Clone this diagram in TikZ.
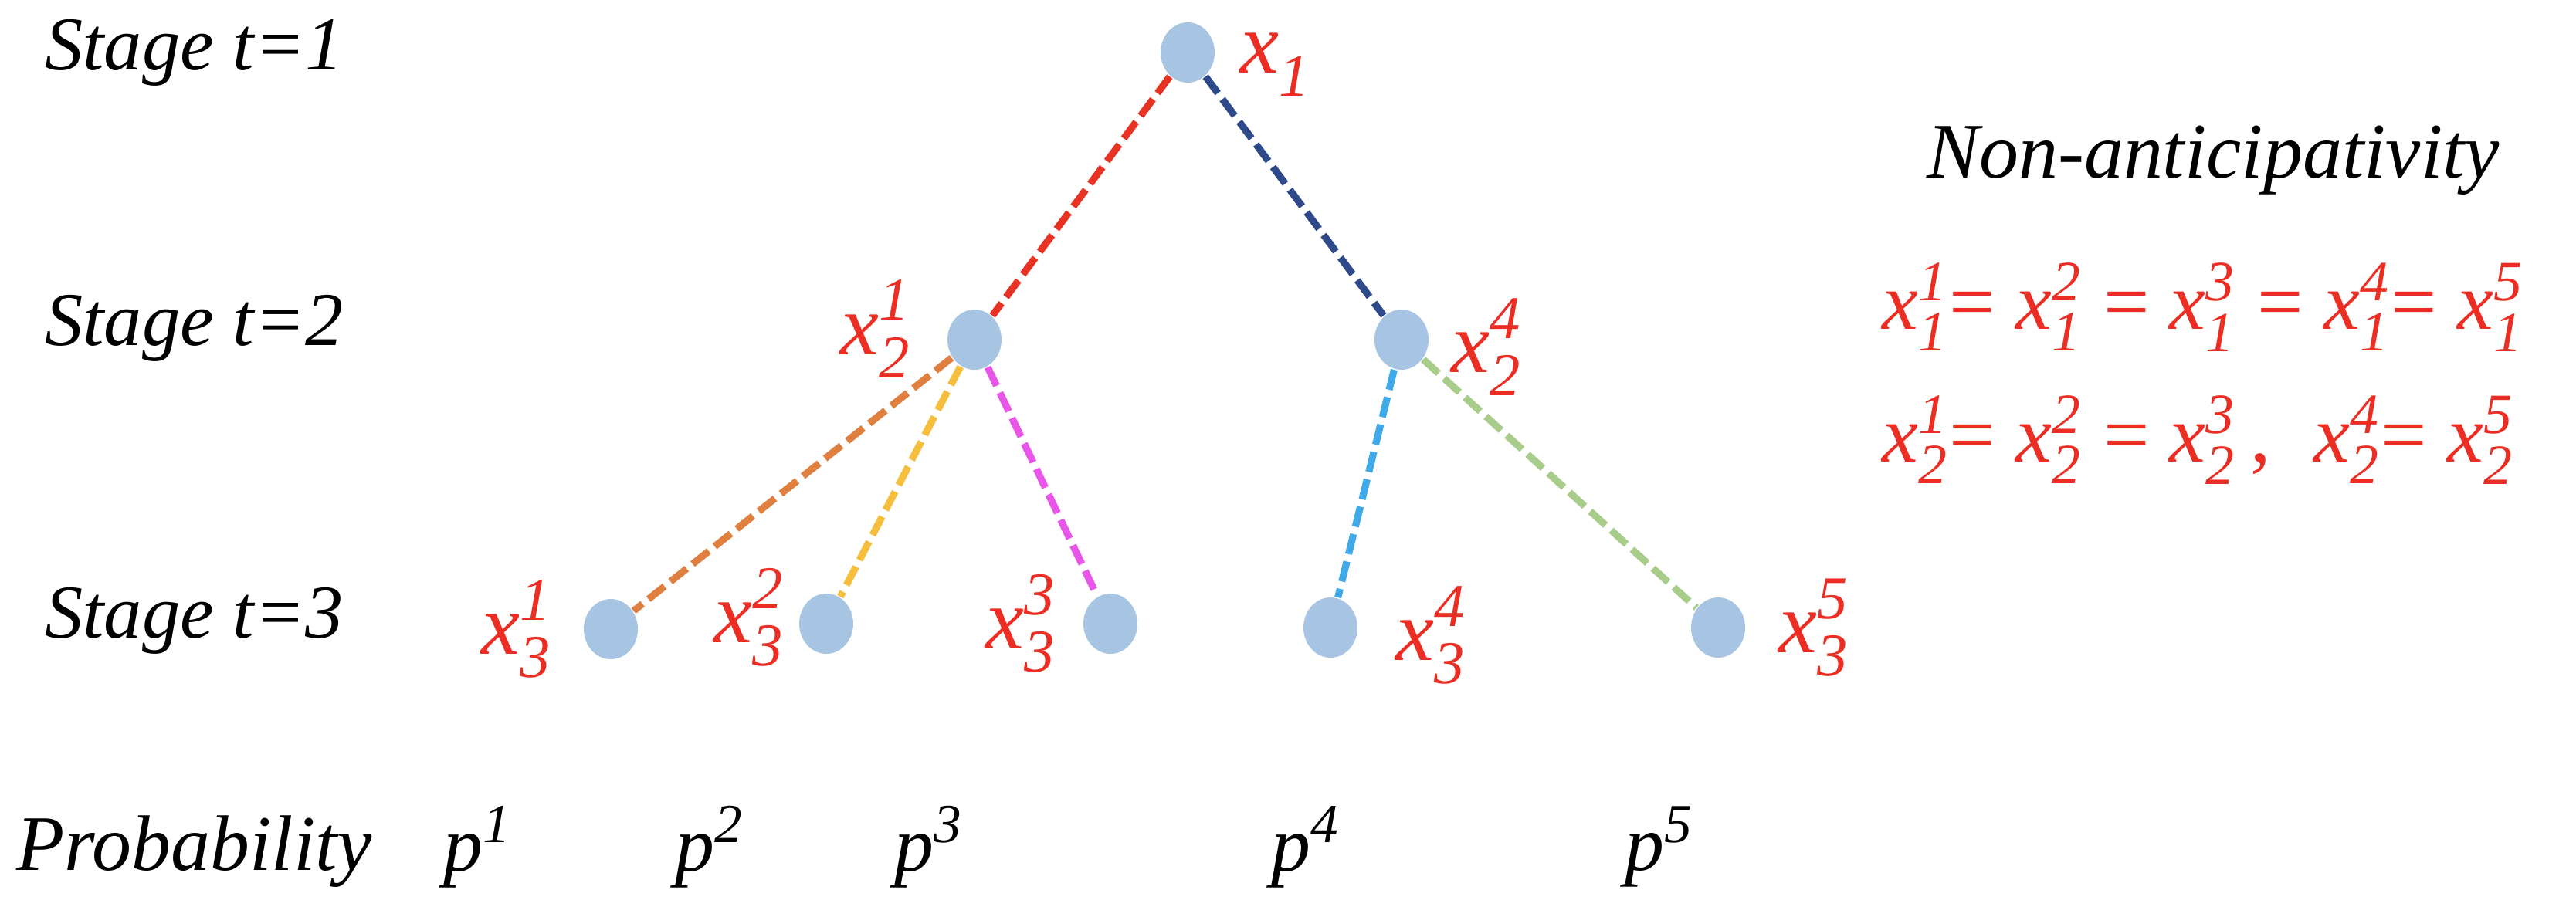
\documentclass[tikz,border=0pt]{standalone}
\usepackage{fontspec}
\setmainfont{Liberation Serif}
\usepackage{amsmath}
\usetikzlibrary{arrows,calc,positioning,shapes}

\definecolor{nodeblue}{RGB}{167,196,226}
\definecolor{labred}{RGB}{235,45,35}
\definecolor{redline}{RGB}{232,50,36}
\definecolor{navyline}{RGB}{47,74,138}
\definecolor{orangeline}{RGB}{224,128,64}
\definecolor{yellowline}{RGB}{245,190,60}
\definecolor{pinkline}{RGB}{232,85,232}
\definecolor{skyline}{RGB}{64,170,232}
\definecolor{greenline}{RGB}{168,204,138}

% italic x with sub- and superscript
\newcommand{\xs}[2]{\ensuremath{\textit{x}_{\textit{#1}}^{\textit{#2}}}}

\begin{document}
\begin{tikzpicture}[auto]
	\tikzstyle{treenode} = [ellipse, fill=nodeblue, inner sep=0pt, minimum width=0.35cm, minimum height=0.39cm]
	\tikzstyle{branch} = [line width=1.3pt, dash pattern=on 3.8pt off 1.4pt]
	\tikzstyle{txt} = [font=\fontsize{14}{17}\selectfont\itshape, inner sep=0pt]
	\tikzstyle{xlab} = [text=labred, font=\fontsize{16}{18}\selectfont, inner sep=1pt]
	\tikzstyle{eqlab} = [text=labred, font=\fontsize{15}{18}\selectfont, inner sep=0pt]
	
	\useasboundingbox (0,0) rectangle (16.68,5.935);
	
	\node [txt, anchor=west] (stage1) at (0.285,5.595) {Stage t=1};
	\node [txt, anchor=west] (stage2) at (0.285,3.81) {Stage t=2};
	\node [txt, anchor=west] (stage3) at (0.285,1.915) {Stage t=3};
	\node [txt, anchor=west, font=\fontsize{14.5}{17}\selectfont\itshape] (prob) at (0.1,0.42) {Probability};
	
	\node [treenode, label={[xlab, label distance=0.12cm, yshift=-0.08cm]0:\xs{1}{}}] (root) at (7.69,5.595) {};
	\node [treenode, label={[xlab, label distance=0.18cm, yshift=0.07cm]180:\xs{2}{1}}] (s21) at (6.31,3.735) {};
	\node [treenode, label={[xlab, label distance=0.1cm, yshift=-0.05cm]0:\xs{2}{4}}] (s24) at (9.075,3.735) {};
	
	\node [treenode, label={[xlab, label distance=0.15cm]180:\xs{3}{1}}] (s31) at (3.955,1.86) {};
	\node [treenode, label={[xlab, label distance=0.04cm, yshift=0.04cm]180:\xs{3}{2}}] (s32) at (5.35,1.895) {};
	\node [treenode, label={[xlab, label distance=0.12cm]180:\xs{3}{3}}] (s33) at (7.19,1.895) {};
	\node [treenode, label={[xlab, label distance=0.2cm, yshift=-0.05cm]0:\xs{3}{4}}] (s34) at (8.615,1.87) {};
	\node [treenode, label={[xlab, label distance=0.17cm]0:\xs{3}{5}}] (s35) at (11.125,1.87) {};
	
	\draw [branch, draw=redline] (root) -- (s21);
	\draw [branch, draw=navyline] (root) -- (s24);
	\draw [branch, draw=orangeline] (s21) -- (s31);
	\draw [branch, draw=yellowline] (s21) -- (s32);
	\draw [branch, draw=pinkline] (s21) -- (s33);
	\draw [branch, draw=skyline] (s24) -- (s34);
	\draw [branch, draw=greenline] (s24) -- (s35);
	
	\foreach \i/\x in {1/3.1, 2/4.6, 3/6.02, 4/8.46, 5/10.75}
		\node [txt, font=\fontsize{14.5}{17}\selectfont\itshape] (p\i) at (\x,0.45) {p\textsuperscript{\i}};
	
	\node [txt, font=\fontsize{14.5}{17}\selectfont\itshape] (nonant) at (14.33,4.895) {Non-anticipativity};
	\node [eqlab, anchor=west] (eq1) at (12.18,3.945) {\xs{1}{1}= \xs{1}{2} = \xs{1}{3} = \xs{1}{4}= \xs{1}{5}};
	\node [eqlab, anchor=west] (eq2) at (12.18,3.085) {\xs{2}{1}= \xs{2}{2} = \xs{2}{3}\,,\; \xs{2}{4}= \xs{2}{5}};
	
\end{tikzpicture}
\end{document}
